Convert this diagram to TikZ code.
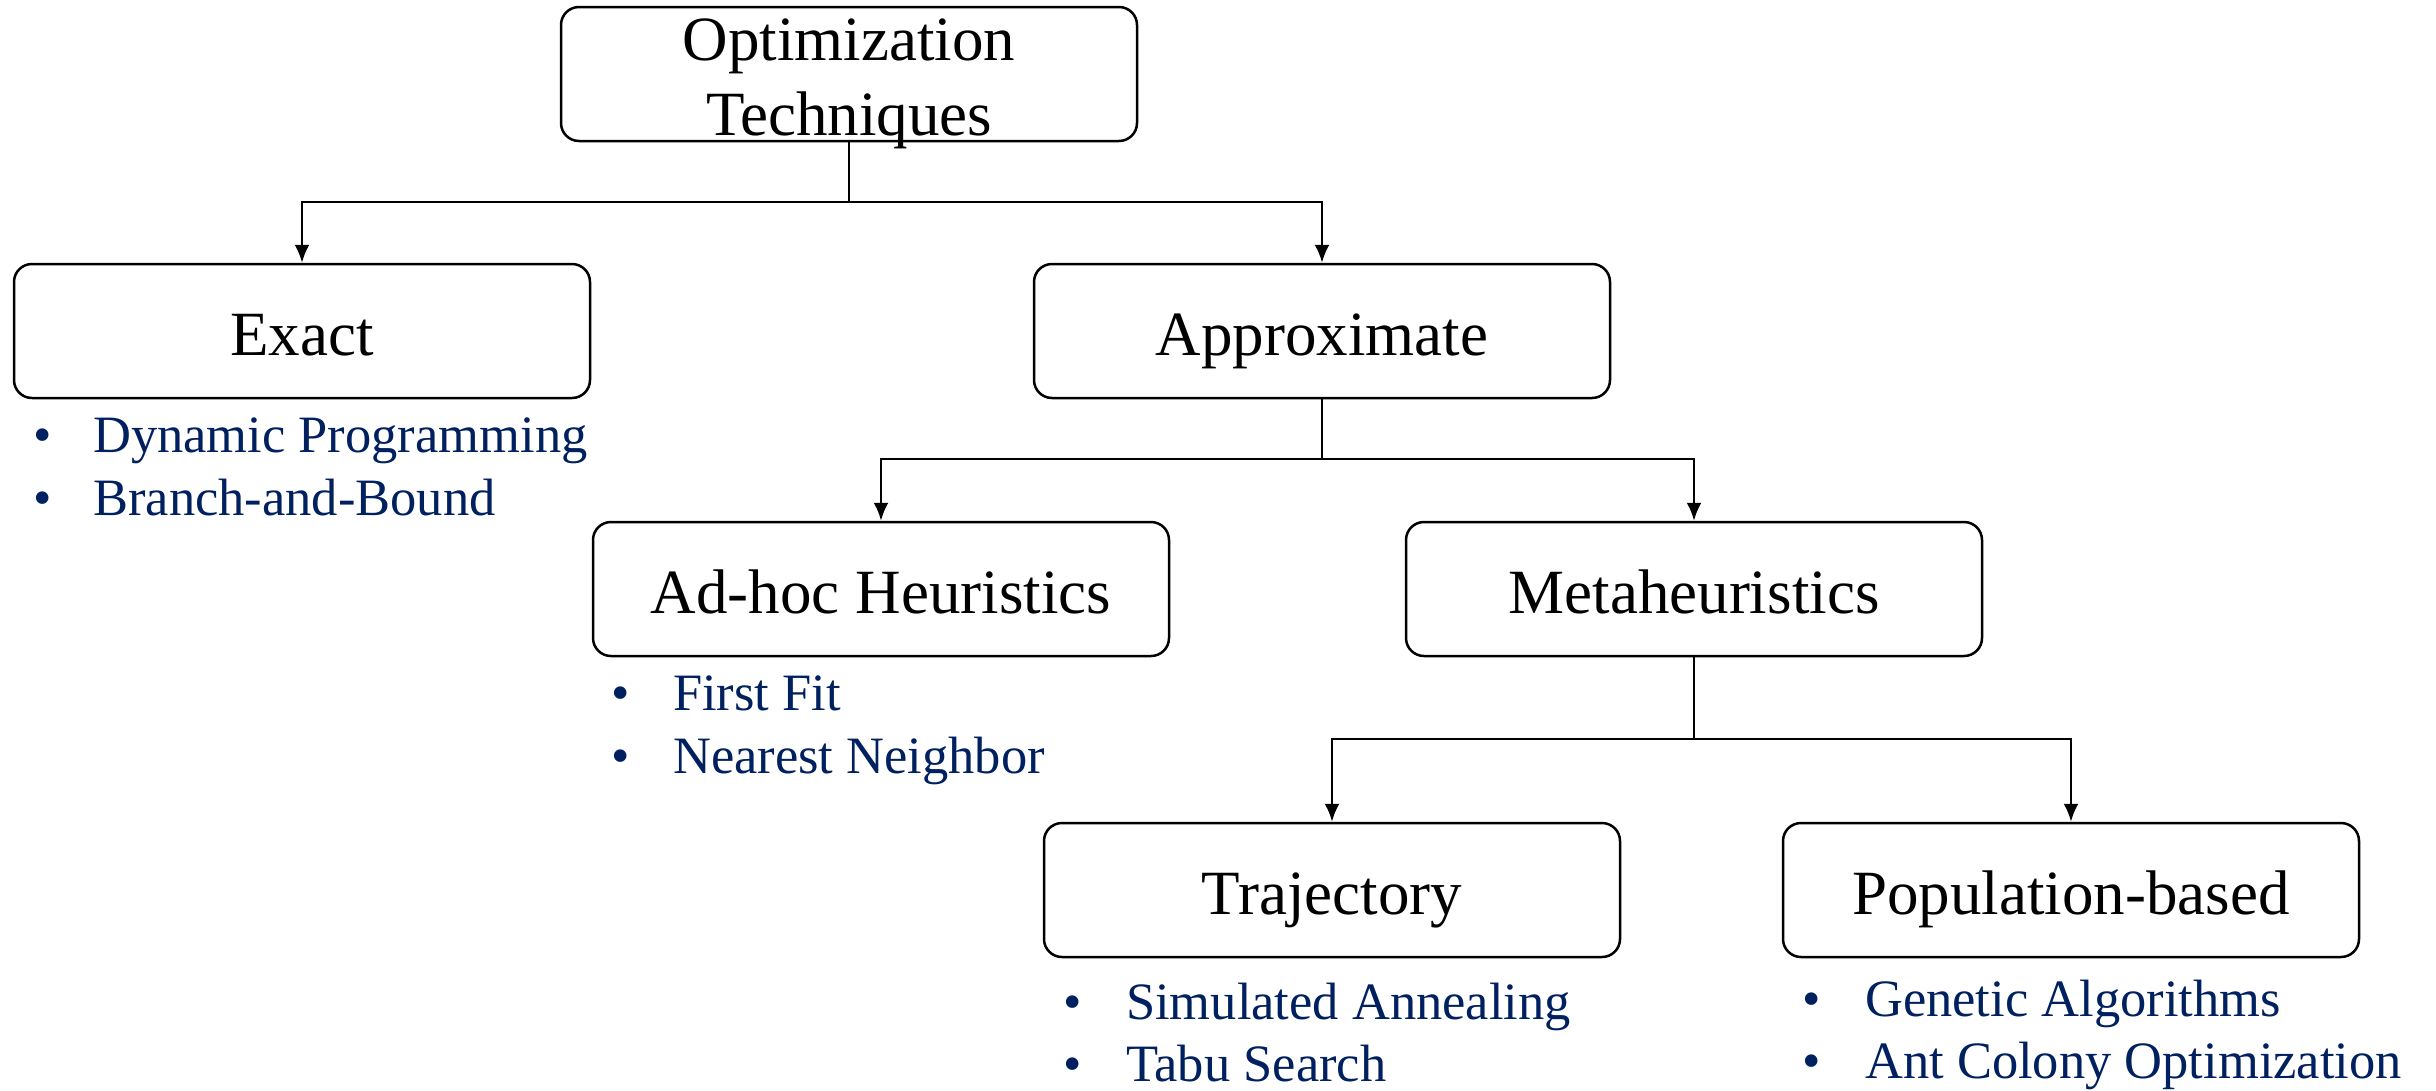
\documentclass[tikz,border=0pt]{standalone}
\usepackage{fontspec}
\setmainfont{Liberation Serif}
\usetikzlibrary{arrows.meta}
\definecolor{navy}{RGB}{0,32,96}
\begin{document}
\begin{tikzpicture}[x=1pt,y=-1pt,
  box/.style={draw, line width=2.5pt, rounded corners=18pt, minimum width=576pt, minimum height=134pt, inner sep=0pt, text height=48pt, text depth=0pt, font=\fontsize{63}{75}\selectfont},
  plainbox/.style={draw, line width=2.5pt, rounded corners=18pt, minimum width=576pt, minimum height=134pt, inner sep=0pt},
  toptext/.style={anchor=base, inner sep=0pt, font=\fontsize{63}{75}\selectfont},
  link/.style={line width=2.5pt},
  arr/.style={line width=2.5pt, -{Latex[length=18pt,width=15pt]}},
  item/.style={anchor=base west, inner sep=0pt, text=navy, font=\fontsize{52.5}{63}\selectfont},
  dot/.style={anchor=base, inner sep=0pt, text=navy, font=\fontsize{52.5}{63}\selectfont}]
\useasboundingbox (0,0) rectangle (2436,1090);

% boxes
\node[plainbox] (top) at (849,74) {};
\node[toptext] (toptxt) at (849,60) {\begin{tabular}[t]{@{}c@{}}Optimization\\Techniques\end{tabular}};
\node[box] (exact) at (302,331) {Exact};
\node[box] (approx) at (1322,331) {Approximate};
\node[box] (adhoc) at (881,589) {Ad-hoc Heuristics};
\node[box] (meta) at (1694,589) {Metaheuristics};
\node[box] (traj) at (1332,890) {Trajectory};
\node[box] (pop) at (2071,890) {Population-based};

% junctions
\coordinate (j1) at (849,202);
\coordinate (j2) at (1322,459);
\coordinate (j3) at (1694,739);

% connectors
\draw[link] (top.south) -- (j1);
\draw[arr] (j1) -| (exact.north);
\draw[arr] (j1) -| (approx.north);
\draw[link] (approx.south) -- (j2);
\draw[arr] (j2) -| (adhoc.north);
\draw[arr] (j2) -| (meta.north);
\draw[link] (meta.south) -- (j3);
\draw[arr] (j3) -| (traj.north);
\draw[arr] (j3) -| (pop.north);

% bullet lists
\node[dot] (d1) at (43,452) {•};
\node[item] (i1) at (93,452) {Dynamic Programming};
\node[dot] (d2) at (43,515) {•};
\node[item] (i2) at (93,515) {Branch-and-Bound};

\node[dot] (d3) at (621,710) {•};
\node[item] (i3) at (673,710) {First Fit};
\node[dot] (d4) at (621,773) {•};
\node[item] (i4) at (673,773) {Nearest Neighbor};

\node[dot] (d5) at (1073,1019) {•};
\node[item] (i5) at (1126,1019) {Simulated Annealing};
\node[dot] (d6) at (1073,1081) {•};
\node[item] (i6) at (1126,1081) {Tabu Search};

\node[dot] (d7) at (1812,1016) {•};
\node[item] (i7) at (1865,1016) {Genetic Algorithms};
\node[dot] (d8) at (1812,1078) {•};
\node[item] (i8) at (1865,1078) {Ant Colony Optimization};
\end{tikzpicture}
\end{document}
